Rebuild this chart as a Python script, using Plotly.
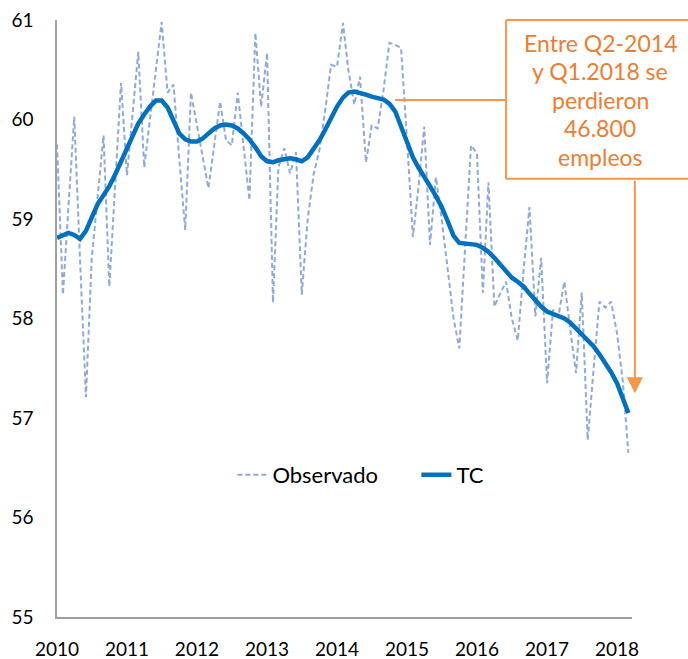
import pandas as pd
import plotly.graph_objects as go

# monthly series, Jan-2010 .. Mar-2018
months = pd.date_range("2010-01-01", periods=99, freq="MS")

observado = [
    59.75, 58.24, 59.10, 60.03, 58.60, 57.21, 58.60, 59.20, 59.84, 58.32,
    59.30, 60.37, 59.44, 60.10, 60.68, 59.52, 60.00, 60.50, 60.98, 60.27,
    60.35, 59.60, 58.89, 60.27, 59.95, 59.60, 59.31, 59.75, 60.18, 59.79,
    59.74, 60.27, 59.70, 59.19, 60.87, 60.13, 60.67, 58.16, 59.52, 59.71,
    59.46, 59.67, 58.24, 59.00, 59.45, 59.69, 60.10, 60.55, 60.53, 60.97,
    60.50, 60.15, 60.43, 59.57, 59.94, 59.91, 60.30, 60.77, 60.75, 60.72,
    59.80, 58.82, 59.30, 59.93, 58.74, 59.42, 59.00, 58.50, 58.00, 57.70,
    58.70, 59.74, 59.66, 58.26, 59.37, 58.12, 58.25, 58.37, 58.00, 57.78,
    58.50, 59.12, 58.02, 58.61, 57.35, 58.09, 58.02, 58.37, 57.90, 57.45,
    58.26, 56.78, 57.50, 58.17, 58.11, 58.17, 57.85, 57.35, 56.65,
]

tc = [
    58.81, 58.84, 58.86, 58.84, 58.80, 58.88, 59.02, 59.15, 59.24, 59.33,
    59.45, 59.58, 59.72, 59.85, 59.96, 60.05, 60.13, 60.19, 60.19, 60.12,
    59.98, 59.86, 59.80, 59.78, 59.78, 59.81, 59.86, 59.91, 59.94, 59.95,
    59.94, 59.91, 59.86, 59.80, 59.72, 59.63, 59.58, 59.57, 59.59, 59.60,
    59.61, 59.60, 59.58, 59.62, 59.70, 59.79, 59.90, 60.02, 60.13, 60.22,
    60.27, 60.28, 60.27, 60.25, 60.23, 60.22, 60.20, 60.16, 60.08, 59.93,
    59.77, 59.62, 59.52, 59.43, 59.33, 59.23, 59.12, 58.98, 58.83, 58.76,
    58.75, 58.75, 58.74, 58.71, 58.67, 58.61, 58.54, 58.47, 58.41, 58.37,
    58.32, 58.25, 58.18, 58.12, 58.07, 58.05, 58.03, 58.00, 57.96, 57.90,
    57.84, 57.78, 57.72, 57.64, 57.55, 57.46, 57.35, 57.20, 57.05,
]

years = list(range(2010, 2019))
year_ticks = [pd.Timestamp(f"{y}-01-01") for y in years]
y_ticks = [55, 56, 57, 58, 59, 60, 61]

nota = ["Entre Q2-2014", "y Q1.2018 se", "perdieron", "46.800", "empleos"]

orange = "#F79646"
font = "Lato"

fig = go.Figure()
fig.add_trace(go.Scatter(x=months, y=observado, mode="lines", name="Observado", legend="legend",
                         line=dict(color="#8EAADB", width=2, dash="5px,3px")))
fig.add_trace(go.Scatter(x=months, y=tc, mode="lines", name="TC", legend="legend2",
                         line=dict(color="#0070C0", width=4.5)))

# orange callout box (open on the right, runs off the page), connector and arrow
box = orange
for x0, x1, y0, y1 in [(0.781, 1.2, 1.0, 1.0), (0.781, 1.2, 0.734, 0.734),
                       (0.781, 0.781, 0.734, 1.0), (0.588, 0.781, 0.866, 0.866)]:
    fig.add_shape(type="line", xref="paper", yref="paper", x0=x0, x1=x1, y0=y0, y1=y1,
                  line=dict(color=box, width=2))
for k, linea in enumerate(nota):
    fig.add_annotation(xref="paper", yref="paper", x=0.945, y=0.962 - k * 0.0478,
                       xanchor="center", yanchor="middle", text=linea, showarrow=False,
                       font=dict(family=font, size=23, color="#ED7D31"))
fig.add_annotation(xref="paper", yref="paper", x=1.005, y=0.375, ax=0, ay=-214, text="",
                   showarrow=True, arrowhead=2, arrowsize=1.6, arrowwidth=2, arrowcolor=orange)

leg = dict(orientation="h", y=0.238, xanchor="left", yanchor="middle",
           bgcolor="rgba(0,0,0,0)", font=dict(size=22))
fig.update_layout(
    width=688, height=659,
    margin=dict(l=57, r=56, t=20, b=42),
    plot_bgcolor="white", paper_bgcolor="white",
    font=dict(family=font, size=19, color="#000000"),
    showlegend=True,
    legend=dict(leg, x=0.305),
    legend2=dict(leg, x=0.625),
)
fig.update_xaxes(range=[pd.Timestamp("2010-01-01"), pd.Timestamp("2018-03-20")],
                 tickvals=year_ticks, ticktext=[str(y) for y in years], automargin=False,
                 showgrid=False, zeroline=False, showline=True, linecolor="#A0A0A0",
                 linewidth=1.5, ticks="", ticklabelstandoff=14)
fig.update_yaxes(range=[55, 61], tickvals=y_ticks, showgrid=False, zeroline=False,
                 showline=True, linecolor="#A0A0A0", linewidth=1.5, ticks="",
                 ticklabelstandoff=18, automargin=False)

fig.write_html("out.html", config={"displayModeBar": False},
               post_script="document.body.style.margin='0';")
